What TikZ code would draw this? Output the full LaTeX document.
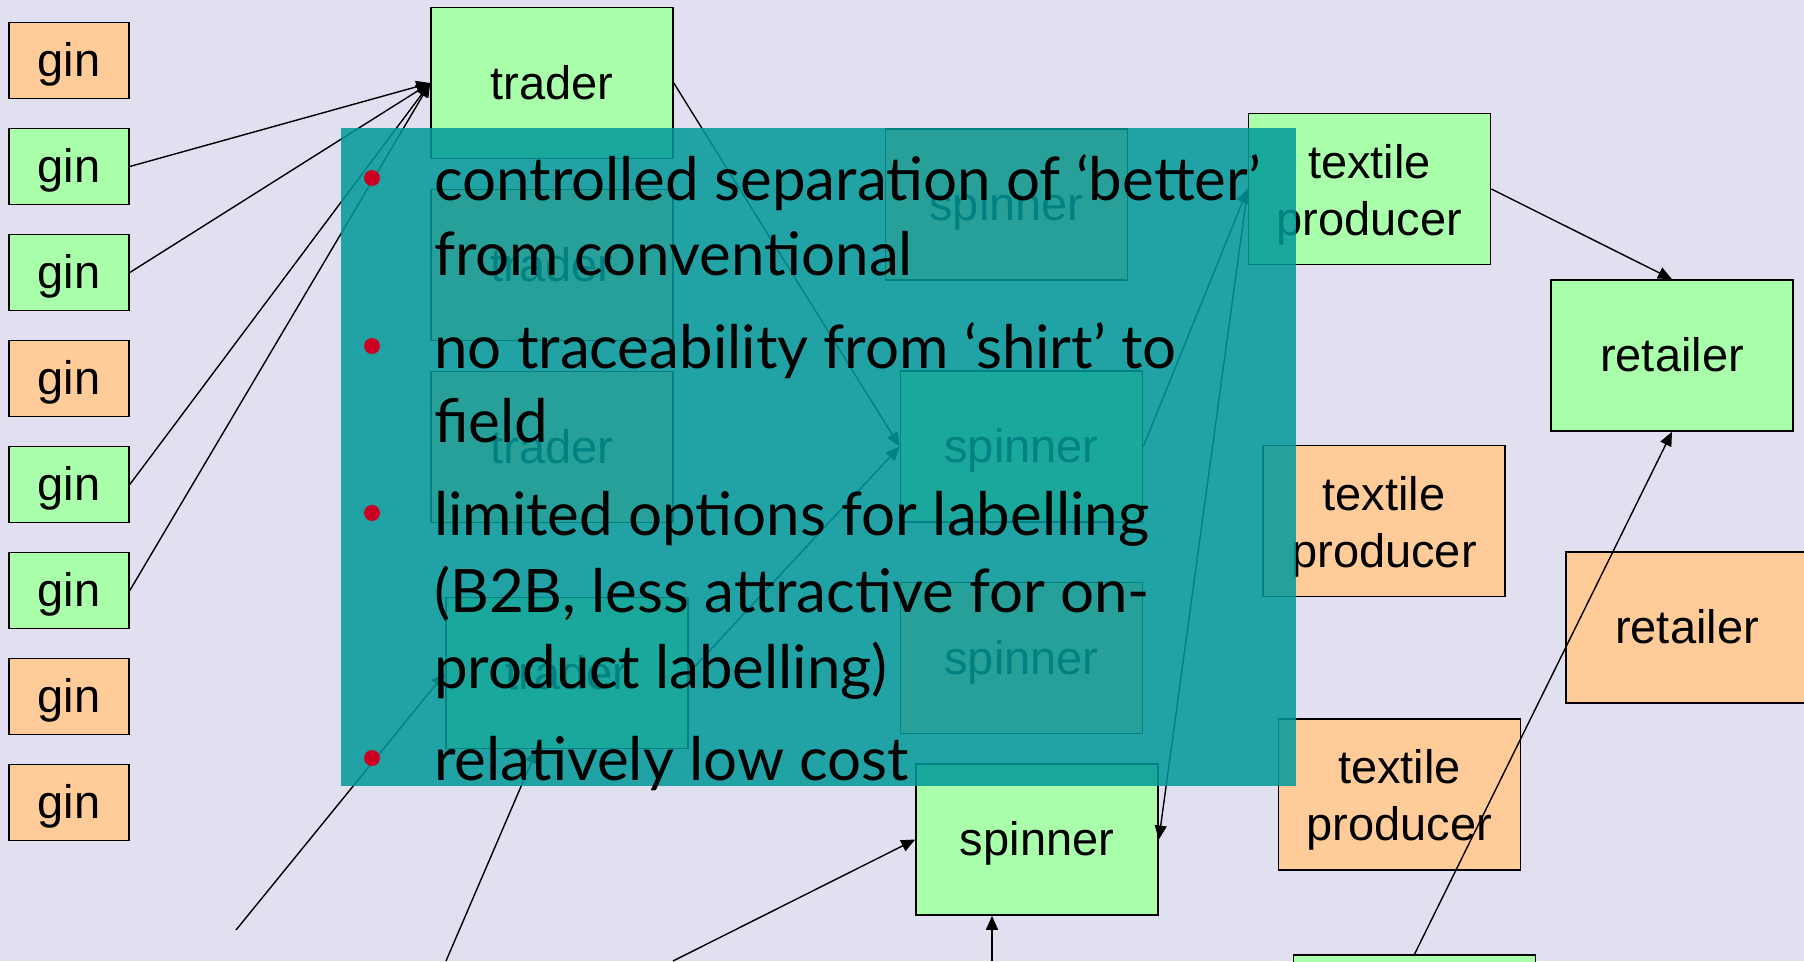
\documentclass[tikz,border=0pt]{standalone}
\usepackage{fontspec}
\usepackage{tikz}
\usetikzlibrary{arrows.meta,positioning,calc}
\newfontfamily\boxfont{Liberation Sans}
\newfontfamily\slidefont{Lato}
\definecolor{slidebg}{HTML}{E1E0F0}
\definecolor{nodegreen}{HTML}{AAFFAA}
\definecolor{nodepeach}{HTML}{FFCC99}
\definecolor{panelteal}{HTML}{009999}
\definecolor{bulletred}{HTML}{CC0022}

\begin{document}
\begin{tikzpicture}[x=1pt,y=-1pt,
  boxbase/.style={draw=black,line width=1.6pt,minimum width=242pt,minimum height=151pt,inner sep=0pt,align=center,font=\boxfont\fontsize{47}{57}\selectfont},
  box/.style={boxbase,text height=42.5pt,text depth=10pt},
  twoline/.style={boxbase},
  ginbox/.style={box,minimum width=120pt,minimum height=76pt},
  greenfill/.style={fill=nodegreen},
  peachfill/.style={fill=nodepeach},
  arr/.style={-{Triangle[length=14pt,width=12pt]},line width=1.4pt,black},
  bullettext/.style={font=\slidefont\fontsize{60}{72}\selectfont,anchor=base west,inner sep=0pt},
  dot/.style={circle,fill=bulletred,minimum size=16pt,inner sep=0pt}
]
\useasboundingbox (0,0) rectangle (1804,961);
\clip (0,0) rectangle (1804,961);
\fill[slidebg] (0,0) rectangle (1804,961);

% gins
\node[ginbox,peachfill] (gin1) at (69,60.5) {gin};
\node[ginbox,greenfill] (gin2) at (69,166.5) {gin};
\node[ginbox,greenfill] (gin3) at (69,272.5) {gin};
\node[ginbox,peachfill] (gin4) at (69,378.5) {gin};
\node[ginbox,greenfill] (gin5) at (69,484.5) {gin};
\node[ginbox,greenfill] (gin6) at (69,590.5) {gin};
\node[ginbox,peachfill] (gin7) at (69,696.5) {gin};
\node[ginbox,peachfill] (gin8) at (69,802.5) {gin};

% traders
\node[box,greenfill] (trader1) at (552,83) {trader};
\node[box,peachfill] (trader2) at (552,265) {trader};
\node[box,peachfill] (trader3) at (552,447) {trader};
\node[box,greenfill] (trader4) at (567,673) {trader};

% spinners
\node[box,peachfill] (spinner1) at (1006.5,204.5) {spinner};
\node[box,greenfill] (spinner2) at (1021.5,446.5) {spinner};
\node[box,peachfill] (spinner3) at (1021.5,658) {spinner};
\node[box,greenfill] (spinner4) at (1037,839.5) {spinner};

% textile producers
\node[twoline,greenfill] (producer1) at (1369.5,189) {\rule{0pt}{45pt}textile\\producer};
\node[twoline,peachfill] (producer2) at (1384,521) {\rule{0pt}{45pt}textile\\producer};
\node[twoline,peachfill] (producer3) at (1399.5,794.5) {\rule{0pt}{45pt}textile\\producer};
\node[box,greenfill] (producer4) at (1414.5,1030.5) {};

% retailers
\node[box,greenfill] (retailer1) at (1672,355.5) {retailer};
\node[box,peachfill] (retailer2) at (1687,627.5) {retailer};

% chains coming in from below the slide
\coordinate (in1) at (236,930);
\coordinate (in2) at (446,961);
\coordinate (in3) at (673,961);
\coordinate (in4) at (992,961);

\draw[arr] (gin2.east) -- (trader1.west);
\draw[arr] (gin3.east) -- (trader1.west);
\draw[arr] (gin5.east) -- (trader1.west);
\draw[arr] (gin6.east) -- (trader1.west);
\draw[arr] (trader1.east) -- (spinner2.west);
\draw[arr] (trader4.east) -- (spinner2.west);
\draw[arr] (spinner2.east) -- (producer1.west);
\draw[arr] (producer1.west) -- (spinner4.east);
\draw[arr] (producer1.east) -- (retailer1.north);
\draw[arr] (producer4.north) -- (retailer1.south);
\draw[arr] (in1) -- (trader4.west);
\draw[arr] (in2) -- ([xshift=-30pt]trader4.south);
\draw[arr] (in3) -- (spinner4.west);
\draw[arr] (in4) -- (in4 |- spinner4.south);

% text panel over the chain
\fill[panelteal,fill opacity=0.85] (341,128) rectangle (1296,786);
\node[dot] (dot1) at (372,178) {};
\node[dot] (dot2) at (372,346) {};
\node[dot] (dot3) at (372,513) {};
\node[dot] (dot4) at (372,758) {};
\node[bullettext] (item1a) at (434,200) {controlled separation of ‘better’};
\node[bullettext] (item1b) at (434,275) {from conventional};
\node[bullettext] (item2a) at (434,368) {no traceability from ‘shirt’ to};
\node[bullettext] (item2b) at (434,442) {field};
\node[bullettext] (item3a) at (434,535) {limited options for labelling};
\node[bullettext] (item3b) at (434,612) {(B2B, less attractive for on-};
\node[bullettext] (item3c) at (434,688) {product labelling)};
\node[bullettext] (item4) at (434,780) {relatively low cost};
\end{tikzpicture}
\end{document}
